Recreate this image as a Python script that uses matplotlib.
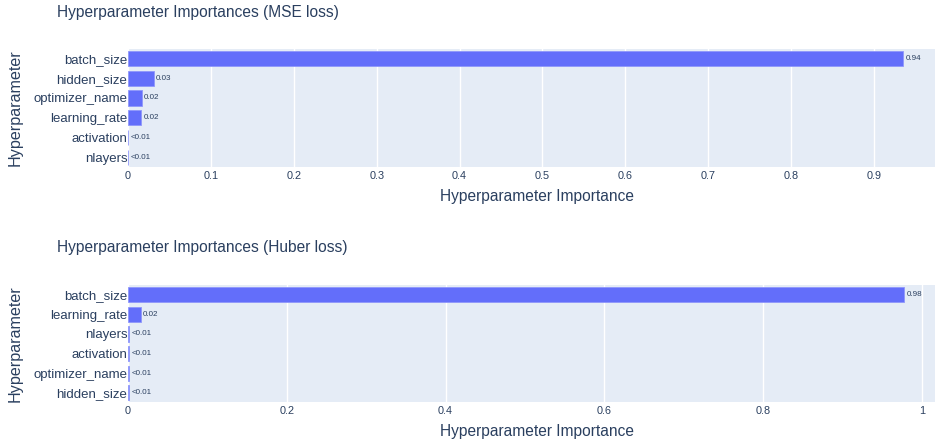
import matplotlib.pyplot as plt

plt.rcParams['font.family'] = ['Liberation Sans', 'DejaVu Sans']

# %% Data (top row first)
mse_params = ['batch_size', 'hidden_size', 'optimizer_name', 'learning_rate',
              'activation', 'nlayers']
mse_values = [0.9355, 0.0315, 0.0165, 0.016, 0.0005, 0.0003]
mse_labels = ['0.94', '0.03', '0.02', '0.02', '<0.01', '<0.01']
mse_ticks = [0, 0.1, 0.2, 0.3, 0.4, 0.5, 0.6, 0.7, 0.8, 0.9]
mse_ticklabels = ['0', '0.1', '0.2', '0.3', '0.4', '0.5', '0.6', '0.7', '0.8', '0.9']

huber_params = ['batch_size', 'learning_rate', 'nlayers', 'activation',
                'optimizer_name', 'hidden_size']
huber_values = [0.9777, 0.016, 0.0017, 0.0016, 0.0015, 0.0015]
huber_labels = ['0.98', '0.02', '<0.01', '<0.01', '<0.01', '<0.01']
huber_ticks = [0, 0.2, 0.4, 0.6, 0.8, 1.0]
huber_ticklabels = ['0', '0.2', '0.4', '0.6', '0.8', '1']

# %% Style
W, H = 935, 444
bar_col = '#636efa'
bg_col = '#e5ecf6'
txt_col = '#2a3f5f'

fig = plt.figure(figsize=(W / 100, H / 100), dpi=100)


def px_axes(x0, y0, x1, y1):
    return fig.add_axes([x0 / W, 1 - y1 / H, (x1 - x0) / W, (y1 - y0) / H])


def draw_panel(ax, params, values, labels, ticks, ticklabels, xmax, title, title_y):
    ax.set_facecolor(bg_col)
    ypos = list(range(len(params)))[::-1]
    ax.barh(ypos, values, height=0.77, color=bar_col, edgecolor='#8f97fb',
            linewidth=0.6, zorder=2)
    for y, v, lab in zip(ypos, values, labels):
        ax.annotate(lab, (v, y), xytext=(1.5, 0), textcoords='offset points',
                    ha='left', va='center', fontsize=5.8, color=txt_col)
    ax.set_xlim(0, xmax)
    ax.set_ylim(-0.5, len(params) - 0.5)
    ax.set_yticks(ypos)
    ax.set_yticklabels(params, fontsize=9.5, color=txt_col)
    ax.set_xticks(ticks)
    ax.set_xticklabels(ticklabels, fontsize=7.8, color=txt_col)
    ax.tick_params(length=0, pad=3)
    ax.tick_params(axis='y', pad=0.5)
    ax.grid(axis='x', color='white', linewidth=1, zorder=0)
    ax.set_axisbelow(True)
    for s in ax.spines.values():
        s.set_visible(False)
    ax.set_xlabel('Hyperparameter Importance', fontsize=11.2, color=txt_col)
    ax.xaxis.set_label_coords(0.507, -0.185)
    ax.set_ylabel('Hyperparameter', fontsize=11.6, color=txt_col)
    ax.yaxis.set_label_coords(-0.131, 0.5)
    fig.text(57 / W, 1 - title_y / H, title, fontsize=11.2, color=txt_col,
             ha='left', va='center')


ax1 = px_axes(128, 48.7, 935, 167)
draw_panel(ax1, mse_params, mse_values, mse_labels, mse_ticks, mse_ticklabels,
           0.9735, 'Hyperparameter Importances (MSE loss)', 12)

ax2 = px_axes(128, 285.2, 935, 402.3)
draw_panel(ax2, huber_params, huber_values, huber_labels, huber_ticks,
           huber_ticklabels, 1.0164, 'Hyperparameter Importances (Huber loss)', 247)

fig.savefig('out.png', dpi=100)
